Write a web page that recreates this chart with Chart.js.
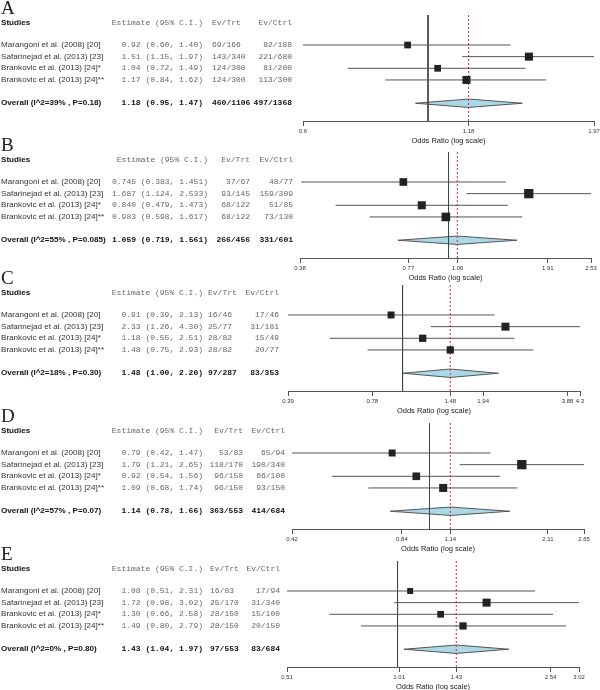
<!DOCTYPE html>
<html>
<head>
<meta charset="utf-8">
<script src="https://cdn.jsdelivr.net/npm/chart.js@4.4.1/dist/chart.umd.min.js"></script>
<style>
  body { margin: 0; background: #fff; width: 600px; height: 690px; overflow: hidden; position: relative; }
  canvas { position: absolute; left: 0; }
  .t { position: absolute; white-space: nowrap; line-height: 1; transform: translateY(-50%); }
  .letter { font-family: 'Liberation Serif', 'DejaVu Serif', serif; font-size: 19px; color: #222; }
  .name { font-family: 'Liberation Sans', Arial, sans-serif; font-size: 8.1px; color: #333; }
  .mono { font-family: 'Liberation Mono', 'Courier New', monospace; font-size: 8px; color: #666; }
  .bold { font-weight: bold; color: #111; }
</style>
</head>
<body>
<script>
// studies (same four in every panel)
const studies = ['Marangoni et al. (2008) [20]', 'Safarinejad et al. (2013) [23]',
                 'Brankovic et al. (2013) [24]*', 'Brankovic et al. (2013) [24]**'];
const panelLetters = ['A', 'B', 'C', 'D', 'E'];

// panel A
const estA = [0.92, 1.51, 1.04, 1.17];
const lowA = [0.60, 1.15, 0.72, 0.84];
const highA = [1.40, 1.97, 1.49, 1.62];
const trtA = ['69/166', '143/340', '124/300', '124/300'];
const ctrlA = ['82/188', '221/680', '81/200', '113/300'];
const wtA = [23, 33, 23, 33];
const overallA = [1.18, 0.95, 1.47];
const overallEvA = ['460/1106', '497/1368'];
const hetA = 'Overall (I^2=39% , P=0.18)';
const ticksA = [0.6, 1.18, 1.97];

// panel B
const estB = [0.745, 1.687, 0.840, 0.983];
const lowB = [0.383, 1.124, 0.479, 0.598];
const highB = [1.451, 2.533, 1.473, 1.617];
const trtB = ['37/67', '93/145', '68/122', '68/122'];
const ctrlB = ['48/77', '159/309', '51/85', '73/130'];
const wtB = [30, 44, 33, 38];
const overallB = [1.059, 0.719, 1.561];
const overallEvB = ['266/456', '331/601'];
const hetB = 'Overall (I^2=55% , P=0.085)';
const ticksB = [0.38, 0.77, 1.06, 1.91, 2.53];

// panel C
const estC = [0.91, 2.33, 1.18, 1.48];
const lowC = [0.39, 1.26, 0.55, 0.75];
const highC = [2.13, 4.30, 2.51, 2.93];
const trtC = ['16/46', '25/77', '28/82', '28/82'];
const ctrlC = ['17/46', '31/181', '15/49', '20/77'];
const wtC = [25, 33, 27, 27];
const overallC = [1.48, 1.00, 2.20];
const overallEvC = ['97/287', '83/353'];
const hetC = 'Overall (I^2=18% , P=0.30)';
const ticksC = [0.39, 0.78, 1.48, 1.94, 3.88, 4.3];

// panel D
const estD = [0.79, 1.79, 0.92, 1.09];
const lowD = [0.42, 1.21, 0.54, 0.68];
const highD = [1.47, 2.65, 1.56, 1.74];
const trtD = ['53/83', '118/170', '96/150', '96/150'];
const ctrlD = ['65/94', '190/340', '66/100', '93/150'];
const wtD = [25, 44, 30, 33];
const overallD = [1.14, 0.78, 1.66];
const overallEvD = ['363/553', '414/684'];
const hetD = 'Overall (I^2=57% , P=0.07)';
const ticksD = [0.42, 0.84, 1.14, 2.11, 2.65];

// panel E
const estE = [1.08, 1.72, 1.30, 1.49];
const lowE = [0.51, 0.98, 0.66, 0.80];
const highE = [2.31, 3.02, 2.58, 2.79];
const trtE = ['16/83', '25/170', '28/150', '28/150'];
const ctrlE = ['17/94', '31/340', '15/100', '20/150'];
const wtE = [18, 33, 23, 27];
const overallE = [1.43, 1.04, 1.97];
const overallEvE = ['97/553', '83/684'];
const hetE = 'Overall (I^2=0% , P=0.80)';
const ticksE = [0.51, 1.01, 1.43, 2.54, 3.02];

const panels = [
  { est: estA, low: lowA, high: highA, trt: trtA, ctrl: ctrlA, wt: wtA, overall: overallA, overallEv: overallEvA, het: hetA, ticks: ticksA, dec: 2 },
  { est: estB, low: lowB, high: highB, trt: trtB, ctrl: ctrlB, wt: wtB, overall: overallB, overallEv: overallEvB, het: hetB, ticks: ticksB, dec: 3 },
  { est: estC, low: lowC, high: highC, trt: trtC, ctrl: ctrlC, wt: wtC, overall: overallC, overallEv: overallEvC, het: hetC, ticks: ticksC, dec: 2 },
  { est: estD, low: lowD, high: highD, trt: trtD, ctrl: ctrlD, wt: wtD, overall: overallD, overallEv: overallEvD, het: hetD, ticks: ticksD, dec: 2 },
  { est: estE, low: lowE, high: highE, trt: trtE, ctrl: ctrlE, wt: wtE, overall: overallE, overallEv: overallEvE, het: hetE, ticks: ticksE, dec: 2 }
];

// where each panel sits on the page, and its text columns
const layouts = [
  { top: 0,   left: 303, right: 594, est: 203, trtX: 212, trtAlign: 'left',  ctrl: 292 },
  { top: 137, left: 300, right: 591, est: 208, trtX: 250, trtAlign: 'right', ctrl: 293 },
  { top: 270, left: 288, right: 580, est: 203, trtX: 208, trtAlign: 'left',  ctrl: 279 },
  { top: 408, left: 292, right: 584, est: 203, trtX: 243, trtAlign: 'right', ctrl: 285 },
  { top: 546, left: 287, right: 579, est: 203, trtX: 210, trtAlign: 'left',  ctrl: 280 }
];

const YMIN = -1.575, YMAX = 7.525;   // row scale, rows 1..4, overall at 6
const OVERALL_ROW = 6;
const HEADER_ROW = -0.9;
const DH = 0.36;                     // diamond half height (row units)

function addText(str, cls, x, align, y) {
  const d = document.createElement('div');
  d.className = 't ' + cls;
  d.textContent = str;
  if (align === 'right') d.style.right = (600 - x) + 'px';
  else d.style.left = x + 'px';
  d.style.top = y + 'px';
  document.body.appendChild(d);
}

function fmt(v, lo, hi, dec) {
  return v.toFixed(dec) + ' (' + lo.toFixed(dec) + ', ' + hi.toFixed(dec) + ')';
}

panels.forEach((p, k) => {
  const lay = layouts[k];
  const cv = document.createElement('canvas');
  cv.width = 600;
  cv.height = 145;
  cv.style.top = lay.top + 'px';
  document.body.appendChild(cv);

  const [oe, ol, oh] = p.overall;

  const ciLines = p.est.map((_, i) => ({
    data: [{ x: p.low[i], y: i + 1 }, { x: p.high[i], y: i + 1 }],
    showLine: true, borderColor: '#555', borderWidth: 1, pointRadius: 0, order: 1
  }));

  const squares = {
    data: p.est.map((v, i) => ({ x: v, y: i + 1 })),
    pointStyle: 'rect',
    pointRadius: p.wt.map(w => Math.sqrt(w) * 1.4 / Math.SQRT2),
    backgroundColor: '#222', borderColor: '#222', borderWidth: 0, order: 0
  };

  const diamond = {
    data: [{ x: ol, y: OVERALL_ROW }, { x: oe, y: OVERALL_ROW - DH }, { x: oh, y: OVERALL_ROW },
           { x: oe, y: OVERALL_ROW + DH }, { x: ol, y: OVERALL_ROW }],
    showLine: true, fill: 'shape', backgroundColor: '#a9d8e6', borderColor: '#555',
    borderWidth: 1, pointRadius: 0, order: 3
  };

  const nullLine = {
    data: [{ x: 1, y: YMIN }, { x: 1, y: YMAX }],
    showLine: true, borderColor: '#444', borderWidth: 1, pointRadius: 0, order: 2
  };

  const pooledLine = {
    data: [{ x: oe, y: YMIN }, { x: oe, y: YMAX }],
    showLine: true, borderColor: '#e8282b', borderWidth: 1, borderDash: [2, 2], pointRadius: 0, order: 2
  };

  const chart = new Chart(cv.getContext('2d'), {
    type: 'scatter',
    data: { datasets: [squares, ...ciLines, nullLine, pooledLine, diamond] },
    options: {
      responsive: false,
      animation: false,
      events: [],
      layout: { padding: { left: lay.left, right: 600 - lay.right, top: 15, bottom: 0 } },
      plugins: { legend: { display: false }, tooltip: { enabled: false } },
      scales: {
        x: {
          type: 'logarithmic',
          min: p.ticks[0],
          max: p.ticks[p.ticks.length - 1],
          afterBuildTicks: s => { s.ticks = p.ticks.map(v => ({ value: v })); },
          afterFit: s => { s.height = 24; s.paddingLeft = 0; s.paddingRight = 0; },
          grid: { drawOnChartArea: false, drawTicks: true, tickLength: 5, color: '#555' },
          border: { display: true, color: '#555', width: 1 },
          ticks: {
            autoSkip: false, maxRotation: 0, padding: 1.5, color: '#333',
            font: { family: 'Liberation Sans', size: 6 },
            callback: (v, i) => String(p.ticks[i])
          },
          title: {
            display: true, text: 'Odds Ratio (log scale)', color: '#222', padding: 0,
            font: { family: 'Liberation Sans', size: 7.5 }
          }
        },
        y: { type: 'linear', reverse: true, min: YMIN, max: YMAX, display: false }
      }
    }
  });

  // table text, aligned with the chart rows
  const ys = chart.scales.y;
  const py = v => lay.top + ys.getPixelForValue(v);
  const hy = py(HEADER_ROW);

  addText(panelLetters[k], 'letter', 1, 'left', hy - 15.5);
  addText('Studies', 'name bold', 1, 'left', hy);
  addText('Estimate (95% C.I.)', 'mono', lay.est, 'right', hy);
  addText('Ev/Trt', 'mono', lay.trtX, lay.trtAlign, hy);
  addText('Ev/Ctrl', 'mono', lay.ctrl, 'right', hy);

  p.est.forEach((v, i) => {
    const y = py(i + 1);
    addText(studies[i], 'name', 1, 'left', y);
    addText(fmt(v, p.low[i], p.high[i], p.dec), 'mono', lay.est, 'right', y);
    addText(p.trt[i], 'mono', lay.trtX, lay.trtAlign, y);
    addText(p.ctrl[i], 'mono', lay.ctrl, 'right', y);
  });

  const oy = py(OVERALL_ROW);
  addText(p.het, 'name bold', 1, 'left', oy);
  addText(fmt(oe, ol, oh, p.dec), 'mono bold', lay.est, 'right', oy);
  addText(p.overallEv[0], 'mono bold', lay.trtX, lay.trtAlign, oy);
  addText(p.overallEv[1], 'mono bold', lay.ctrl, 'right', oy);
});
</script>
</body>
</html>
